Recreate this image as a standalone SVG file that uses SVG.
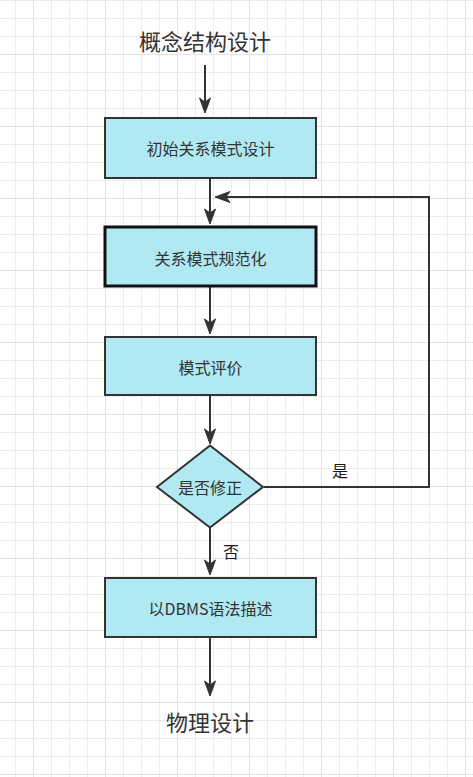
<svg xmlns="http://www.w3.org/2000/svg" width="473" height="777" viewBox="0 0 473 777">
  <style>
    .box { fill: #b0e9f1; stroke: #333333; stroke-width: 2; }
    .box.bold { stroke: #111111; stroke-width: 3; }
    .lbl { font-family: "Noto Sans CJK SC", "Noto Sans", sans-serif; fill: #333333; text-anchor: middle; dominant-baseline: central; }
    .node { font-size: 16px; }
    .term { font-size: 22px; }
    .elbl { fill: #1a1a1a; }
    .edge { fill: none; stroke: #333333; stroke-width: 2; }
  </style>
  <defs>
    <pattern id="grid" x="33" y="54" width="72" height="72" patternUnits="userSpaceOnUse">
      <rect width="72" height="72" fill="#ffffff"/>
      <g fill="#ececec">
        <rect x="18" y="0" width="1" height="72"/>
        <rect x="36" y="0" width="1" height="72"/>
        <rect x="54" y="0" width="1" height="72"/>
        <rect x="0" y="18" width="72" height="1"/>
        <rect x="0" y="36" width="72" height="1"/>
        <rect x="0" y="54" width="72" height="1"/>
      </g>
      <g fill="#e2e2e2">
        <rect x="0" y="0" width="1" height="72"/>
        <rect x="0" y="0" width="72" height="1"/>
      </g>
    </pattern>
    <marker id="arrow" viewBox="0 -6 16 12" refX="4" refY="0" markerWidth="16" markerHeight="12" markerUnits="userSpaceOnUse" orient="auto" overflow="visible">
      <path d="M15,0 L0,-5.5 L4,0 L0,5.5 Z" fill="#333333" stroke="#333333" stroke-width="1" stroke-linejoin="miter"/>
    </marker>
  </defs>
  <rect width="473" height="777" fill="url(#grid)"/>

  <g id="connectors">
    <path class="edge" d="M205,65 L205,102" marker-end="url(#arrow)"/>
    <path class="edge" d="M210,178 L210,213" marker-end="url(#arrow)"/>
    <path class="edge" d="M264,487 L429,487 L429,197 L226,197" marker-end="url(#arrow)"/>
    <path class="edge" d="M210,287 L210,323" marker-end="url(#arrow)"/>
    <path class="edge" d="M210,396 L210,433" marker-end="url(#arrow)"/>
    <path class="edge" d="M210,528 L210,564" marker-end="url(#arrow)"/>
    <path class="edge" d="M210,638 L210,685" marker-end="url(#arrow)"/>
    <text class="lbl node elbl" x="340" y="470">是</text>
    <text class="lbl node elbl" x="231" y="551">否</text>
  </g>

  <g id="start">
    <text class="lbl term" x="205" y="40">概念结构设计</text>
  </g>
  <g id="initial">
    <rect class="box" x="105" y="118" width="211" height="60"/>
    <text class="lbl node" x="210.5" y="148">初始关系模式设计</text>
  </g>
  <g id="normalize">
    <rect class="box bold" x="105" y="227" width="211" height="59"/>
    <text class="lbl node" x="210.5" y="258">关系模式规范化</text>
  </g>
  <g id="evaluate">
    <rect class="box" x="105" y="337" width="211" height="58"/>
    <text class="lbl node" x="210.5" y="367">模式评价</text>
  </g>
  <g id="decision">
    <polygon class="box" points="210,445.5 263,487 210,527.5 157,487"/>
    <text class="lbl node" x="210" y="487">是否修正</text>
  </g>
  <g id="dbms">
    <rect class="box" x="105" y="578" width="211" height="59"/>
    <text class="lbl node" x="210.5" y="608">以DBMS语法描述</text>
  </g>
  <g id="end">
    <text class="lbl term" x="210" y="721">物理设计</text>
  </g>
</svg>
